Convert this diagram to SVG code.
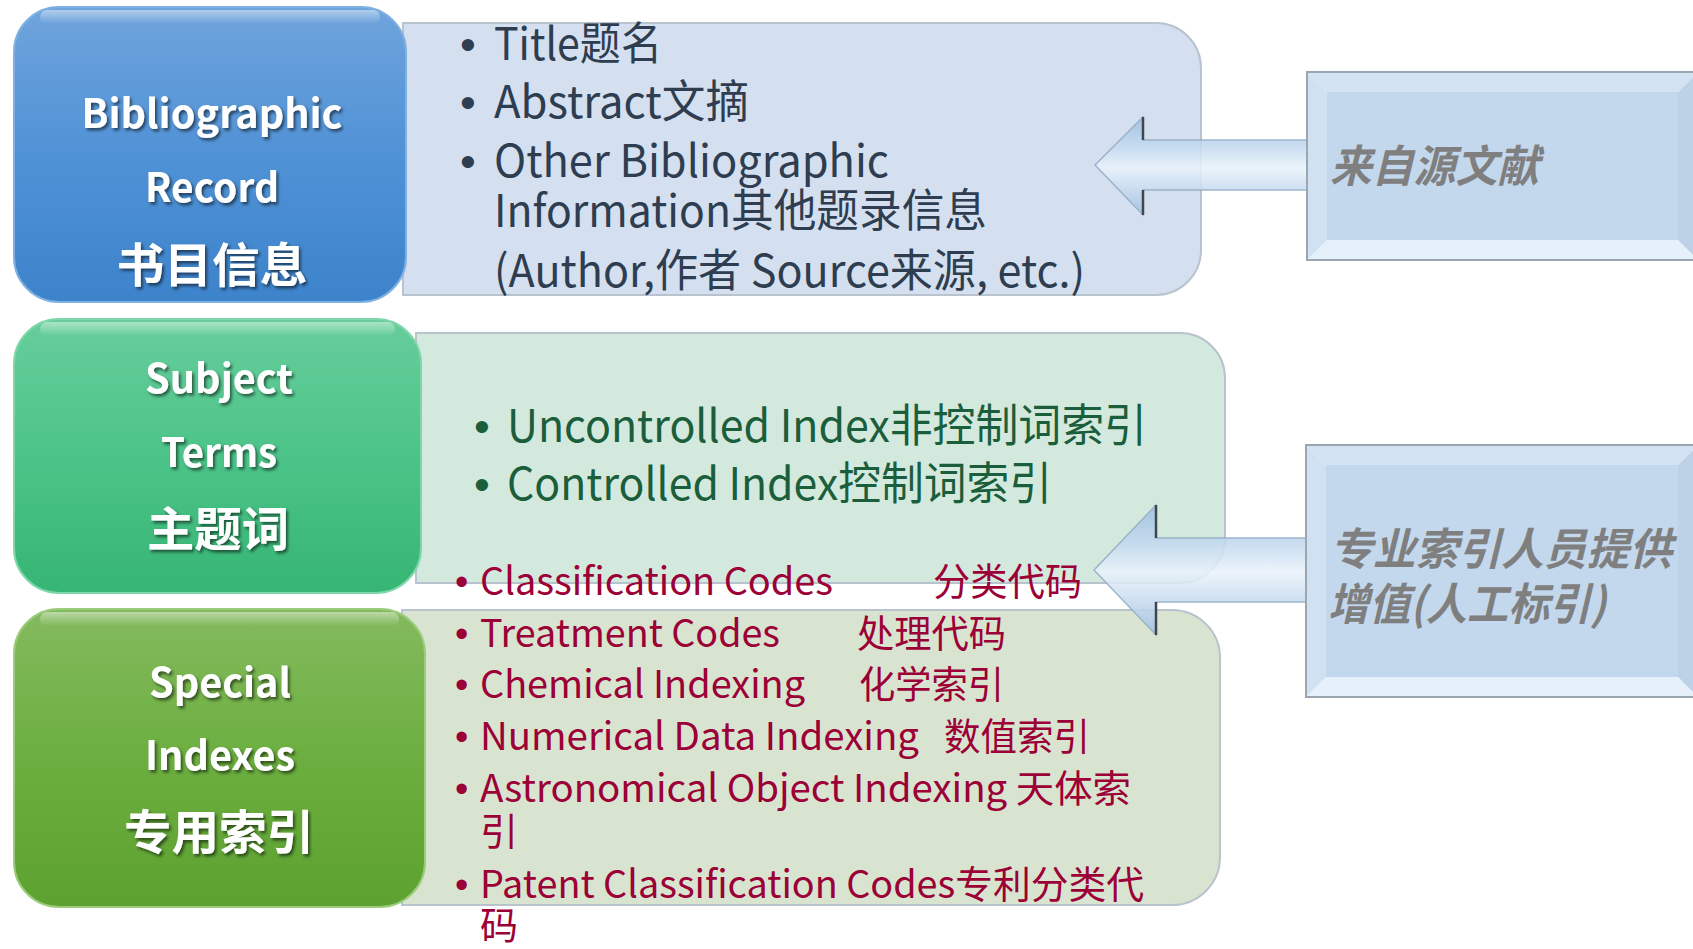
<svg xmlns="http://www.w3.org/2000/svg" width="1693" height="949" viewBox="0 0 1693 949">
<style>
.lbl{font-family:"Noto Sans CJK SC","Noto Sans",sans-serif;font-weight:700;fill:#ffffff;text-anchor:middle;filter:url(#tshadow)}
.t{font-family:"Noto Sans CJK SC","Noto Sans",sans-serif;font-weight:400}
.bul{font-family:"Liberation Sans",sans-serif}
.blue{fill:#2e3d4f;font-size:45px}
.grn{fill:#1b5e3b;font-size:45px}
.red{fill:#9b0036;font-size:38px}
.side{font-family:"Noto Sans CJK SC",sans-serif;font-weight:700;font-style:italic;fill:#7f7f7f;font-size:44px}
.panel{stroke:#b9c3cd;stroke-width:2}
.node{stroke-width:2}
.arrow{fill:url(#arrowGrad);stroke:#93acc6;stroke-width:1.5;opacity:0.88}
.aback{stroke:#3e4751;stroke-width:2.5}
.bev-o{fill:none;stroke:#9ba6b1;stroke-width:2}
</style>
<defs>
<filter id="tshadow" x="-10%" y="-20%" width="130%" height="150%">
<feDropShadow dx="2" dy="2.5" stdDeviation="1.5" flood-color="#000" flood-opacity="0.55"/>
</filter>
<linearGradient id="gBlue" x1="0" y1="0" x2="0" y2="1">
<stop offset="0" stop-color="#6fa4dc"/><stop offset="0.5" stop-color="#5092d6"/><stop offset="1" stop-color="#3d83cb"/>
</linearGradient>
<linearGradient id="gGreen" x1="0" y1="0" x2="0" y2="1">
<stop offset="0" stop-color="#67cd9b"/><stop offset="0.5" stop-color="#4cc489"/><stop offset="1" stop-color="#36b574"/>
</linearGradient>
<linearGradient id="gLime" x1="0" y1="0" x2="0" y2="1">
<stop offset="0" stop-color="#84ba5e"/><stop offset="0.5" stop-color="#6caf40"/><stop offset="1" stop-color="#5da130"/>
</linearGradient>
<linearGradient id="gloss" x1="0" y1="0" x2="0" y2="1">
<stop offset="0" stop-color="#ffffff" stop-opacity="0.45"/><stop offset="1" stop-color="#ffffff" stop-opacity="0"/>
</linearGradient>
<linearGradient id="arrowGrad" x1="0" y1="0" x2="0" y2="1">
<stop offset="0" stop-color="#9ebfe0"/><stop offset="0.3" stop-color="#c4daf0"/><stop offset="0.52" stop-color="#eaf3fb"/><stop offset="0.75" stop-color="#c6dbef"/><stop offset="1" stop-color="#a2c1e1"/>
</linearGradient>
</defs>

<!-- content panels -->
<g id="panel-biblio">
<path class="panel" fill="#d4e0ef" d="M403 23 H1156 A45 45 0 0 1 1201 68 V250 A45 45 0 0 1 1156 295 H403 Z"/>
<text class="bul blue" x="460" y="60">•</text>
<text class="t blue" x="494" y="60" textLength="168" lengthAdjust="spacingAndGlyphs">Title题名</text>
<text class="bul blue" x="460" y="118">•</text>
<text class="t blue" x="494" y="118" textLength="255" lengthAdjust="spacingAndGlyphs">Abstract文摘</text>
<text class="bul blue" x="460" y="177">•</text>
<text class="t blue" x="494" y="177" textLength="395" lengthAdjust="spacingAndGlyphs">Other Bibliographic</text>
<text class="t blue" x="494" y="227" textLength="493" lengthAdjust="spacingAndGlyphs">Information其他题录信息</text>
<text class="t blue" x="494" y="287" textLength="591" lengthAdjust="spacingAndGlyphs">(Author,作者 Source来源, etc.)</text>
</g>

<g id="panel-subject">
<path class="panel" fill="#d3e9de" d="M416 333 H1180 A45 45 0 0 1 1225 378 V538 A45 45 0 0 1 1180 583 H416 Z"/>
<text class="bul grn" x="474" y="442">•</text>
<text class="t grn" x="507" y="442" textLength="640" lengthAdjust="spacingAndGlyphs">Uncontrolled Index非控制词索引</text>
<text class="bul grn" x="474" y="500">•</text>
<text class="t grn" x="507" y="500" textLength="545" lengthAdjust="spacingAndGlyphs">Controlled Index控制词索引</text>
</g>

<g id="panel-special">
<path class="panel" fill="#d8e4d0" d="M402 610 H1172 A48 48 0 0 1 1220 658 V857 A48 48 0 0 1 1172 905 H402 Z"/>
<text class="bul red" x="455" y="595">•</text>
<text class="t red" x="480" y="595" textLength="353" lengthAdjust="spacingAndGlyphs">Classification Codes</text>
<text class="t red" x="933" y="595" textLength="149" lengthAdjust="spacingAndGlyphs">分类代码</text>
<text class="bul red" x="455" y="647">•</text>
<text class="t red" x="480" y="647" textLength="300" lengthAdjust="spacingAndGlyphs">Treatment Codes</text>
<text class="t red" x="857" y="647" textLength="149" lengthAdjust="spacingAndGlyphs">处理代码</text>
<text class="bul red" x="455" y="698">•</text>
<text class="t red" x="480" y="698" textLength="325" lengthAdjust="spacingAndGlyphs">Chemical Indexing</text>
<text class="t red" x="859" y="698" textLength="145" lengthAdjust="spacingAndGlyphs">化学索引</text>
<text class="bul red" x="455" y="750">•</text>
<text class="t red" x="480" y="750" textLength="439" lengthAdjust="spacingAndGlyphs">Numerical Data Indexing</text>
<text class="t red" x="944" y="750" textLength="146" lengthAdjust="spacingAndGlyphs">数值索引</text>
<text class="bul red" x="455" y="802">•</text>
<text class="t red" x="480" y="802" textLength="651" lengthAdjust="spacingAndGlyphs">Astronomical Object Indexing 天体索</text>
<text class="t red" x="480" y="845">引</text>
<text class="bul red" x="455" y="898">•</text>
<text class="t red" x="480" y="898" textLength="664" lengthAdjust="spacingAndGlyphs">Patent Classification Codes专利分类代</text>
<text class="t red" x="480" y="939">码</text>
</g>

<!-- category nodes -->
<g id="node-biblio">
<rect class="node" x="14" y="7" width="392" height="295" rx="45" fill="url(#gBlue)" stroke="#7fb0e2"/>
<rect x="40" y="10" width="340" height="14" rx="7" fill="url(#gloss)"/>
<text class="lbl" x="212" y="128" font-size="40" textLength="261" lengthAdjust="spacingAndGlyphs">Bibliographic</text>
<text class="lbl" x="212" y="202" font-size="40" textLength="134" lengthAdjust="spacingAndGlyphs">Record</text>
<text class="lbl" x="212" y="282" font-size="47" textLength="191" lengthAdjust="spacingAndGlyphs">书目信息</text>
</g>

<g id="node-subject">
<rect class="node" x="14" y="319" width="407" height="274" rx="45" fill="url(#gGreen)" stroke="#7fd6aa"/>
<rect x="40" y="322" width="355" height="14" rx="7" fill="url(#gloss)"/>
<text class="lbl" x="219" y="393" font-size="40" textLength="148" lengthAdjust="spacingAndGlyphs">Subject</text>
<text class="lbl" x="219" y="467" font-size="40" textLength="116" lengthAdjust="spacingAndGlyphs">Terms</text>
<text class="lbl" x="218" y="546" font-size="47" textLength="142" lengthAdjust="spacingAndGlyphs">主题词</text>
</g>

<g id="node-special">
<rect class="node" x="14" y="609" width="411" height="298" rx="45" fill="url(#gLime)" stroke="#9ccb7c"/>
<rect x="40" y="612" width="359" height="14" rx="7" fill="url(#gloss)"/>
<text class="lbl" x="220" y="697" font-size="40" textLength="142" lengthAdjust="spacingAndGlyphs">Special</text>
<text class="lbl" x="220" y="770" font-size="40" textLength="150" lengthAdjust="spacingAndGlyphs">Indexes</text>
<text class="lbl" x="219" y="849" font-size="47" textLength="190" lengthAdjust="spacingAndGlyphs">专用索引</text>
</g>

<!-- connectors -->
<g id="connectors">
<g id="arrow-source">
<polygon class="arrow" points="1095,165 1143,117 1143,140 1322,140 1322,190 1143,190 1143,215"/>
<line class="aback" x1="1143" y1="117" x2="1143" y2="140"/>
<line class="aback" x1="1143" y1="190" x2="1143" y2="215"/>
</g>
<g id="arrow-indexers">
<polygon class="arrow" points="1094,570 1156,505 1156,538 1322,538 1322,602 1156,602 1156,635"/>
<line class="aback" x1="1156" y1="505" x2="1156" y2="538"/>
<line class="aback" x1="1156" y1="602" x2="1156" y2="635"/>
</g>
</g>

<!-- source boxes -->
<g id="node-source">
<polygon points="1307,72 1698,72 1678,92 1327,92" fill="#d3e3f3"/>
<polygon points="1307,260 1698,260 1678,240 1327,240" fill="#e5f0fa"/>
<polygon points="1307,72 1327,92 1327,240 1307,260" fill="#d0e1f2"/>
<polygon points="1698,72 1678,92 1678,240 1698,260" fill="#bdd2e7"/>
<rect x="1327" y="92" width="351" height="148" fill="#c3d8ed"/>
<rect class="bev-o" x="1307" y="72" width="391" height="188"/>
<text class="side" x="1330" y="182" textLength="209" lengthAdjust="spacingAndGlyphs">来自源文献</text>
</g>

<g id="node-indexers">
<polygon points="1306,445 1698,445 1678,465 1326,465" fill="#d3e3f3"/>
<polygon points="1306,697 1698,697 1678,677 1326,677" fill="#e5f0fa"/>
<polygon points="1306,445 1326,465 1326,677 1306,697" fill="#d0e1f2"/>
<polygon points="1698,445 1678,465 1678,677 1698,697" fill="#bdd2e7"/>
<rect x="1326" y="465" width="352" height="212" fill="#c3d8ed"/>
<rect class="bev-o" x="1306" y="445" width="392" height="252"/>
<text class="side" x="1330" y="565" textLength="342" lengthAdjust="spacingAndGlyphs">专业索引人员提供</text>
<text class="side" x="1328" y="620" textLength="278" lengthAdjust="spacingAndGlyphs">增值(人工标引)</text>
</g>
</svg>
